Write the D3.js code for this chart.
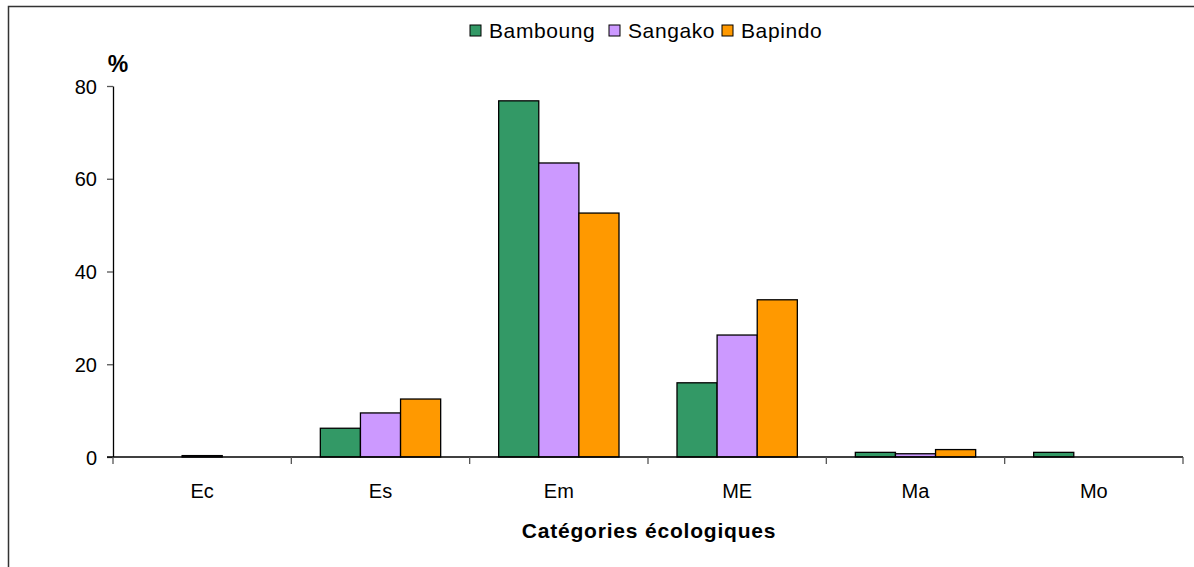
<!DOCTYPE html>
<html>
<head>
<meta charset="utf-8">
<style>
  body { margin: 0; background: #fff; }
  svg { display: block; font-family: Arial, "Liberation Sans", sans-serif; }
</style>
</head>
<body>
<script src="https://cdn.jsdelivr.net/npm/d3@7"></script>
<script>

  const categories = ['Ec', 'Es', 'Em', 'ME', 'Ma', 'Mo']
  const seriesNames = ['Bamboung', 'Sangako', 'Bapindo']
  const bamboung = [0, 6.2, 76.8, 16.0, 1.0, 1.0]
  const sangako  = [0.3, 9.5, 63.4, 26.3, 0.7, 0]
  const bapindo  = [0, 12.5, 52.6, 33.9, 1.6, 0]
  const yTicks = [0, 20, 40, 60, 80]

  const colors = {Bamboung: '#339966', Sangako: '#CC99FF', Bapindo: '#FF9900'}

  const W = 1194, H = 567
  const margin = {left: 113, top: 86, right: 11, bottom: 110}
  const width = W - margin.left - margin.right,
        height = H - margin.top - margin.bottom

  const values = {Bamboung: bamboung, Sangako: sangako, Bapindo: bapindo}

  const svg = d3.select('body').append('svg')
      .attr('width', W)
      .attr('height', H)

  // outer frame (runs off the right / bottom edge)
  svg.append('rect')
      .attr('x', 8.5).attr('y', 6.5)
      .attr('width', W).attr('height', H)
      .style('fill', 'none')
      .style('stroke', '#333')
      .style('stroke-width', 1.5)

  const g = svg.append('g')
      .attr('transform', `translate(${margin.left}, ${margin.top})`)

  const x0 = d3.scaleBand().domain(categories).range([0, width]).paddingInner(0).paddingOuter(0)
  const x1 = d3.scaleBand().domain(seriesNames).range([29, x0.bandwidth() - 29])
  const y = d3.scaleLinear().domain([0, 80]).range([height, 0])

  // bars
  const groups = g.selectAll('.grp')
    .data(categories)
    .enter().append('g')
      .attr('class', 'grp')
      .attr('transform', d => `translate(${x0(d)}, 0)`)

  groups.selectAll('rect')
    .data((c, i) => seriesNames.map(s => ({s, v: values[s][i]})))
    .enter().append('rect')
      .filter(d => d.v > 0)
      .attr('x', d => x1(d.s))
      .attr('y', d => y(d.v))
      .attr('width', x1.bandwidth())
      .attr('height', d => y(0) - y(d.v))
      .style('fill', d => colors[d.s])
      .style('stroke', '#000')
      .style('stroke-width', 1.3)

  // y axis
  const yAxis = d3.axisLeft(y).tickValues(yTicks).tickSize(6).tickSizeOuter(0)
  const gy = g.append('g').call(yAxis)
  gy.select('.domain').style('stroke', '#000').style('stroke-width', 1.3)
  gy.selectAll('.tick line').style('stroke', '#555').style('stroke-width', 1.3)
  gy.selectAll('.tick text')
      .attr('x', -16)
      .attr('dy', '0.35em')
      .style('font-size', '20px')
      .style('fill', '#000')
      .style('font-family', 'Arial, "Liberation Sans", sans-serif')

  // x axis: ticks at category boundaries
  const gx = g.append('g').attr('transform', `translate(0, ${height})`)
  gx.append('line')
      .attr('x1', -6).attr('x2', width)
      .style('stroke', '#000').style('stroke-width', 1.3)
  gx.selectAll('.xt')
    .data(d3.range(categories.length + 1))
    .enter().append('line')
      .attr('class', 'xt')
      .attr('x1', i => i * x0.step()).attr('x2', i => i * x0.step())
      .attr('y1', 0).attr('y2', 7)
      .style('stroke', '#555').style('stroke-width', 1.3)
  gx.selectAll('.xl')
    .data(categories)
    .enter().append('text')
      .attr('class', 'xl')
      .attr('x', d => x0(d) + x0.bandwidth() / 2)
      .attr('y', 41)
      .style('text-anchor', 'middle')
      .style('font-size', '20px')
      .text(d => d)

  // axis titles
  svg.append('text')
      .attr('x', 649).attr('y', 538)
      .style('text-anchor', 'middle')
      .style('font-size', '21px')
      .style('letter-spacing', '0.8px')
      .style('font-weight', 'bold')
      .text('Catégories écologiques')

  svg.append('text')
      .attr('x', 118).attr('y', 72)
      .style('text-anchor', 'middle')
      .style('font-size', '23px')
      .style('font-weight', 'bold')
      .text('%')

  // legend
  const legendX = [470, 609, 722]
  const legend = svg.selectAll('.leg')
    .data(seriesNames)
    .enter().append('g')
      .attr('class', 'leg')
      .attr('transform', (d, i) => `translate(${legendX[i]}, 25)`)
  legend.append('rect')
      .attr('width', 11).attr('height', 11)
      .style('fill', d => colors[d])
      .style('stroke', '#000').style('stroke-width', 1)
  legend.append('text')
      .attr('x', 19).attr('y', 13)
      .style('font-size', '21px')
      .style('letter-spacing', '0.6px')
      .text(d => d)

</script>
</body>
</html>
